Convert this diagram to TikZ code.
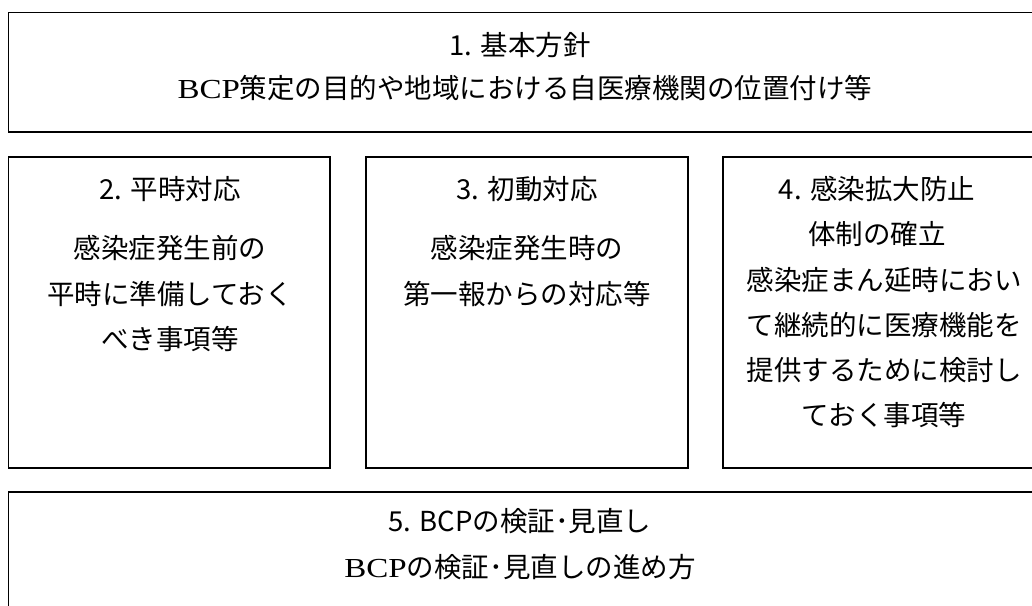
\documentclass[tikz,border=0pt]{standalone}
\usepackage{fontspec}
\setmainfont{Noto Sans CJK JP}
\newfontfamily\latserif[FakeStretch=1.2]{Liberation Serif}
\begin{document}
\begin{tikzpicture}[x=1pt,y=-1pt,
  box/.style={draw=black, line width=1.5pt},
  ln/.style={font=\fontsize{27.5}{30}\selectfont, anchor=base, inner sep=0pt}]
\useasboundingbox (0,0) rectangle (1032,605);
\begin{scope}
\clip (0,0) rectangle (1032,605);
\draw[box] (8.5,12.5) rectangle (1040,132);
\draw[box] (8.5,157) rectangle (330,468);
\draw[box] (366,157) rectangle (688,468);
\draw[box] (723,157) rectangle (1040,468);
\draw[box] (8.5,492) rectangle (1040,620);
\end{scope}
% box 1
\node[ln] (t1) at (520,55) {1. 基本方針};
\node[ln] (d1) at (525,98) {{\latserif BCP}策定の目的や地域における自医療機関の位置付け等};
% box 2
\node[ln] (t2) at (170,199) {2. 平時対応};
\node[ln] (d2a) at (170,258) {感染症発生前の};
\node[ln] (d2b) at (170,304) {平時に準備しておく};
\node[ln] (d2c) at (170,349) {べき事項等};
% box 3
\node[ln] (t3) at (527,199) {3. 初動対応};
\node[ln] (d3a) at (527,258) {感染症発生時の};
\node[ln] (d3b) at (527,304) {第一報からの対応等};
% box 4
\node[ln] (t4a) at (877,199) {4. 感染拡大防止};
\node[ln] (t4b) at (877,244) {体制の確立};
\node[ln] (d4a) at (884,290) {感染症まん延時におい};
\node[ln] (d4b) at (884,335) {て継続的に医療機能を};
\node[ln] (d4c) at (884,380) {提供するために検討し};
\node[ln] (d4d) at (884,425) {ておく事項等};
% box 5
\node[ln] (t5) at (520,531) {5. BCPの検証･見直し};
\node[ln] (d5) at (520,577) {{\latserif BCP}の検証･見直しの進め方};
\end{tikzpicture}
\end{document}
